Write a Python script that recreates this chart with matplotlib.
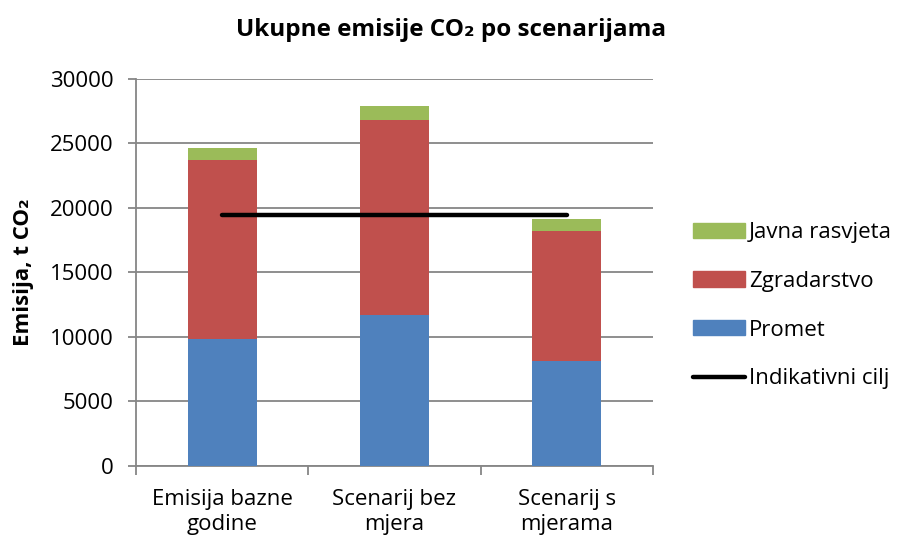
import matplotlib
matplotlib.use("Agg")
import matplotlib.pyplot as plt
import numpy as np
from matplotlib.patches import Patch
from matplotlib.lines import Line2D

plt.rcParams['font.family'] = ['Open Sans', 'DejaVu Sans']

categories = ["Emisija bazne\ngodine", "Scenarij bez\nmjera", "Scenarij s\nmjerama"]
promet = [9800, 11650, 8130]
zgradarstvo = [13920, 15150, 10070]
javna_rasvjeta = [880, 1100, 940]
indikativni_cilj = [19450, 19450, 19450]
y_ticks = [0, 5000, 10000, 15000, 20000, 25000, 30000]

c_blue = "#4F81BD"
c_red = "#C0504D"
c_green = "#9BBB59"
c_axis = "#868686"
FS = 16

fig = plt.figure(figsize=(9.04, 5.43), dpi=100)
ax = fig.add_axes([136/904, 1 - 465.7/543, (653 - 136)/904, (465.7 - 78.8)/543])

x = np.arange(len(categories))
w = 0.4
b1 = np.array(promet)
b2 = b1 + np.array(zgradarstvo)
ax.bar(x, promet, w, color=c_blue, zorder=3)
ax.bar(x, zgradarstvo, w, bottom=b1, color=c_red, zorder=3)
ax.bar(x, javna_rasvjeta, w, bottom=b2, color=c_green, zorder=3)
ax.plot(x, indikativni_cilj, color="black", lw=3.2, solid_capstyle="round", zorder=4)

ax.set_xlim(-0.5, 2.5)
ax.set_ylim(0, 30000)
ax.set_yticks(y_ticks)
ax.set_yticklabels([str(v) for v in y_ticks], fontsize=FS)
ax.set_xticks(x)
ax.set_xticklabels(categories, fontsize=FS, linespacing=1.2)
ax.set_xticks([-0.5, 0.5, 1.5, 2.5], minor=True)
ax.tick_params(axis='x', which='major', length=0, pad=17)
ax.tick_params(axis='x', which='minor', length=6.5, width=1.3, color=c_axis, direction='out')
ax.tick_params(axis='y', length=6, width=1.3, color=c_axis, direction='out', pad=10)

ax.grid(axis='y', color=c_axis, lw=1.3, zorder=0)
for s in ['top', 'right']:
    ax.spines[s].set_visible(False)
for s in ['left', 'bottom']:
    ax.spines[s].set_color(c_axis)
    ax.spines[s].set_linewidth(1.3)

ax.set_ylabel("Emisija, t CO₂", fontsize=FS, fontweight='bold')
ax.yaxis.set_label_coords(-0.197, 0.5)

fig.text(0.499, 1 - 30/543, "Ukupne emisije CO₂ po scenarijama", ha='center', va='center',
         fontsize=17.5, fontweight='bold')

handles = [
    Patch(color=c_green, label="Javna rasvjeta"),
    Patch(color=c_red, label="Zgradarstvo"),
    Patch(color=c_blue, label="Promet"),
    Line2D([0], [0], color="black", lw=3.2, solid_capstyle="round", label="Indikativni cilj"),
]
fig.legend(handles=handles, loc='upper left', bbox_to_anchor=(693/904, 1 - 222/543),
           frameon=False, fontsize=FS, handlelength=2.35, handleheight=0.68,
           handletextpad=0.18, labelspacing=1.25, borderpad=0, borderaxespad=0)

fig.savefig("out.png", dpi=100)
